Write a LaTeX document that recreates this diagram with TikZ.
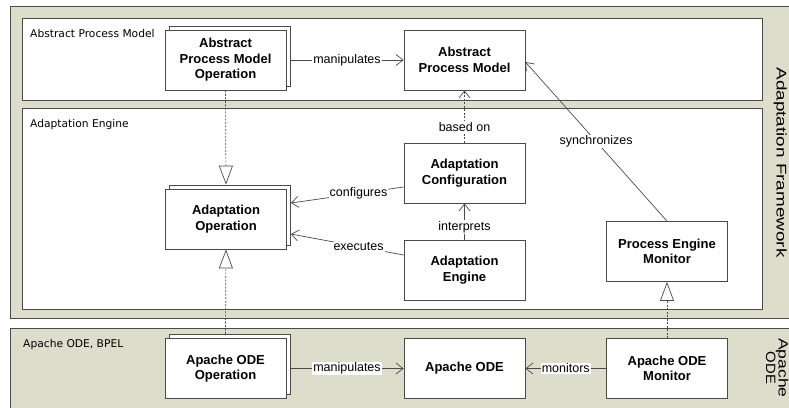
\documentclass[tikz,border=0pt]{standalone}
\usepackage{fontspec}
\setmainfont{Liberation Sans}
\newfontfamily\panelfont{DejaVu Sans}
\usetikzlibrary{arrows.meta,shadows}
\definecolor{frameg}{HTML}{DCDECB}
\definecolor{edgec}{HTML}{4A4A4A}
\tikzset{
  box/.style={draw=edgec, fill=white, line width=0.8pt, align=center,
    minimum width=121pt, minimum height=60pt, inner sep=0pt,
    font=\bfseries\fontsize{13}{15.5}\selectfont},
  stacked/.style={box, copy shadow={shadow xshift=4pt, shadow yshift=4pt}},
  panel/.style={draw=edgec, line width=0.8pt},
  plabel/.style={anchor=base west, inner sep=0pt, font=\panelfont\fontsize{10.7}{12}\selectfont},
  elabel/.style={fill=white, inner sep=1pt, font=\fontsize{12.5}{14}\selectfont},
  assoc/.style={draw=edgec, line width=0.7pt, -{Straight Barb[length=7pt,width=11pt]}},
  dep/.style={assoc, dash pattern=on 2pt off 1.5pt},
  realize/.style={draw=edgec, line width=0.7pt, dash pattern=on 2pt off 1.5pt,
    -{Triangle[length=19pt,width=14pt,fill=white]}},
  vlabel/.style={anchor=base, inner sep=0pt, rotate=-90}
}
\begin{document}
\begin{tikzpicture}[x=1pt,y=-1pt]
\useasboundingbox (0,0) rectangle (789,407);
\fill[white] (0,0) rectangle (789,407);
% frames
\draw[panel, fill=frameg] (10,6) rectangle (800,318);
\draw[panel, fill=white] (22,18) rectangle (762,100);
\draw[panel, fill=white] (22,108) rectangle (762,309);
\draw[panel, fill=frameg] (10,328) rectangle (800,420);
\node[plabel] (lapm) at (30,37) {Abstract Process Model};
\node[plabel] (lae) at (30,127.5) {Adaptation Engine};
\node[plabel] (lode) at (23,347) {Apache ODE, BPEL};
\node[vlabel, font=\fontsize{14}{16}\selectfont] (laf) at (776.5,162.5) {\scalebox{1.35}[1]{Adaptation Framework}};
\node[vlabel, font=\fontsize{13.5}{16}\selectfont] (lap) at (778.5,368) {\scalebox{1.3}[1]{Apache}};
\node[vlabel, font=\fontsize{13.5}{16}\selectfont] (lod) at (766,368) {\scalebox{1.1}[1]{ODE}};
% nodes
\node[stacked] (apmo) at (225.5,60) {Abstract\\Process Model\\Operation};
\node[box] (apm) at (464.5,60) {Abstract\\Process Model};
\node[stacked] (ao) at (226,219) {Adaptation\\Operation};
\node[box] (ac) at (464.5,173) {Adaptation\\Configuration};
\node[box] (ae) at (464.5,270) {Adaptation\\Engine};
\node[box] (pem) at (667,251.5) {Process Engine\\Monitor};
\node[stacked] (odeo) at (225.5,368.5) {Apache ODE\\Operation};
\node[box] (ode) at (464.5,368.5) {Apache ODE};
\node[box] (odem) at (667,368.5) {Apache ODE\\Monitor};
% connectors
\draw[assoc] ([xshift=4pt]apmo.east) -- node[elabel] {manipulates} (apm.west);
\draw[realize] (apmo.south) -- ([yshift=4pt]ao.north);
\draw[realize] ([yshift=4pt]odeo.north) -- (ao.south);
\draw[realize] (odem.north) -- (pem.south);
\draw[dep] (ac.north) -- node[elabel, pos=0.3] {based on} (apm.south);
\draw[assoc] (ae.north) -- node[elabel, pos=0.35] {interprets} (ac.south);
\draw[assoc] ([yshift=-14pt]ac.west) -- node[elabel, pos=0.4] {configures} ([xshift=4pt,yshift=16pt]ao.east);
\draw[assoc] ([yshift=15pt]ae.west) -- node[elabel, pos=0.4] {executes} ([xshift=4pt,yshift=-15pt]ao.east);
\draw[assoc] (pem.north) -- node[elabel, pos=0.5] {synchronizes} ([yshift=-2pt]apm.east);
\draw[assoc] ([xshift=4pt]odeo.east) -- node[elabel] {manipulates} (ode.west);
\draw[assoc] (odem.west) -- node[elabel] {monitors} (ode.east);
\end{tikzpicture}
\end{document}
